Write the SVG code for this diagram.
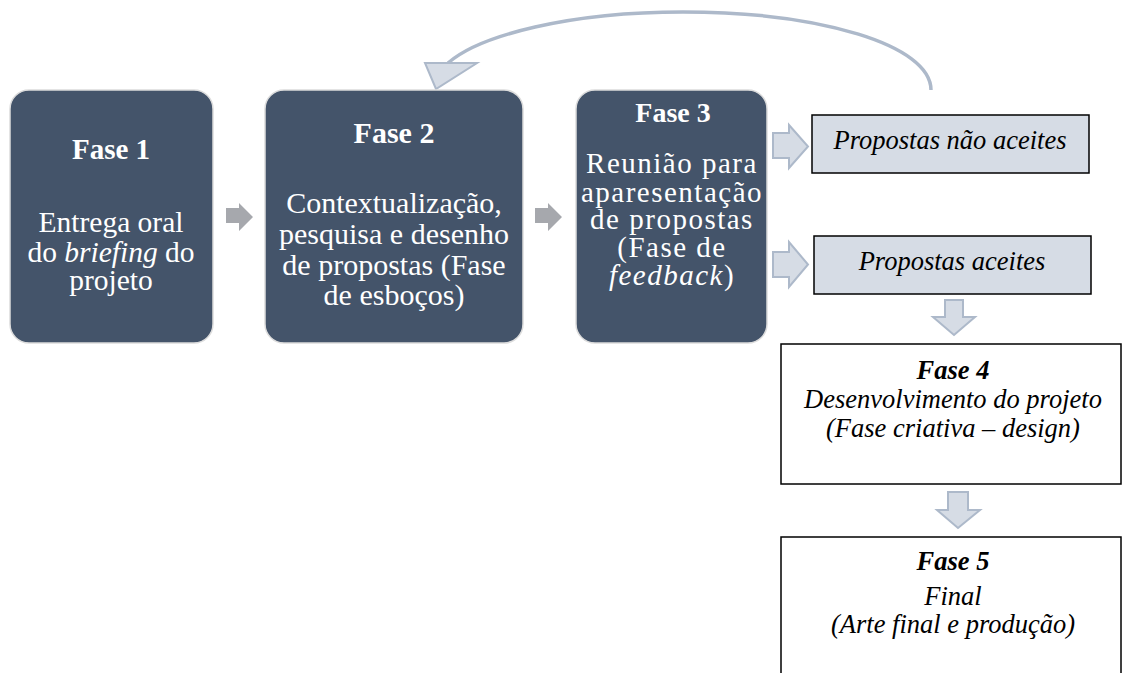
<svg xmlns="http://www.w3.org/2000/svg" width="1123" height="673" viewBox="0 0 1123 673">
<style>
.dark{fill:#44546a;stroke:#dcdcdc;stroke-width:1.5}
.wt{font-family:'Liberation Serif','Times New Roman','DejaVu Serif',serif;fill:#ffffff;text-anchor:middle}
.wb{font-weight:bold}
.bt{font-family:'Liberation Serif','Times New Roman','DejaVu Serif',serif;fill:#000;text-anchor:middle;font-style:italic;font-size:26.5px}
.lbox{fill:#d6dce5;stroke:#000;stroke-width:1.5}
.wbox{fill:#ffffff;stroke:#000;stroke-width:1.5}
.garr{fill:#a6a8ad}
.larr{fill:#d6dce5;stroke:#adb9ca;stroke-width:2}
</style>
<rect width="1123" height="673" fill="#ffffff"/>
<g id="connectors">
<polygon class="garr" points="226,208 239,208 239,203 253,217 239,231 239,223 226,223"/>
<polygon class="garr" points="535,208 548,208 548,203 562,217 548,231 548,223 535,223"/>
<polygon class="larr" points="773,133 789,133 789,125 808,146.5 789,168 789,158 773,158"/>
<polygon class="larr" points="773,252 789,252 789,242 808,264.5 789,287 789,277 773,277"/>
<polygon class="larr" points="945,300 963,300 963,317 975,317 954,335 933,317 945,317"/>
<polygon class="larr" points="948,492 968,492 968,510 980,510 958,528 937,510 948,510"/>
<path d="M931 90 C931 45 820 12 683 12 C570 12 480 35 448 63" fill="none" stroke="#adb9ca" stroke-width="3.5"/>
<polygon points="425,63 477,63 436,89" fill="#d6dce5" stroke="#adb9ca" stroke-width="2" stroke-linejoin="miter"/>
</g>
<g id="fase1" font-size="29.5">
<rect class="dark" x="10" y="90" width="203" height="253" rx="19"/>
<text class="wt wb" x="111" y="159" font-size="29">Fase 1</text>
<text class="wt" x="111" y="232">Entrega oral</text>
<text class="wt" x="111" y="262">do <tspan font-style="italic">briefing</tspan> do</text>
<text class="wt" x="111" y="290">projeto</text>
</g>
<g id="fase2" font-size="30">
<rect class="dark" x="265" y="90" width="258" height="253" rx="19"/>
<text class="wt wb" x="394" y="143">Fase 2</text>
<text class="wt" x="394" y="213">Contextualização,</text>
<text class="wt" x="394" y="244">pesquisa e desenho</text>
<text class="wt" x="394" y="275">de propostas (Fase</text>
<text class="wt" x="394" y="305">de esboços)</text>
</g>
<g id="fase3" font-size="29">
<rect class="dark" x="576" y="90" width="191" height="253" rx="19"/>
<text class="wt wb" x="673" y="122" font-size="28">Fase 3</text>
<g letter-spacing="1.5">
<text class="wt" x="672" y="173">Reunião para</text>
<text class="wt" x="672" y="202">aparesentação</text>
<text class="wt" x="672" y="229">de propostas</text>
<text class="wt" x="672" y="257">(Fase de</text>
<text class="wt" x="672" y="285"><tspan font-style="italic">feedback</tspan>)</text>
</g>
</g>
<g id="nao-aceites">
<rect class="lbox" x="812" y="115" width="277" height="58"/>
<text class="bt" x="950" y="149">Propostas não aceites</text>
</g>
<g id="aceites">
<rect class="lbox" x="814" y="236" width="277" height="58"/>
<text class="bt" x="952" y="270">Propostas aceites</text>
</g>
<g id="fase4">
<rect class="wbox" x="781" y="344" width="340" height="140"/>
<text class="bt" x="953" y="379" font-weight="bold">Fase 4</text>
<text class="bt" x="953" y="408">Desenvolvimento do projeto</text>
<text class="bt" x="953" y="437">(Fase criativa – design)</text>
</g>
<g id="fase5">
<rect class="wbox" x="781" y="537" width="340" height="150"/>
<text class="bt" x="953" y="570" font-weight="bold">Fase 5</text>
<text class="bt" x="953" y="605">Final</text>
<text class="bt" x="953" y="633">(Arte final e produção)</text>
</g>
</svg>
